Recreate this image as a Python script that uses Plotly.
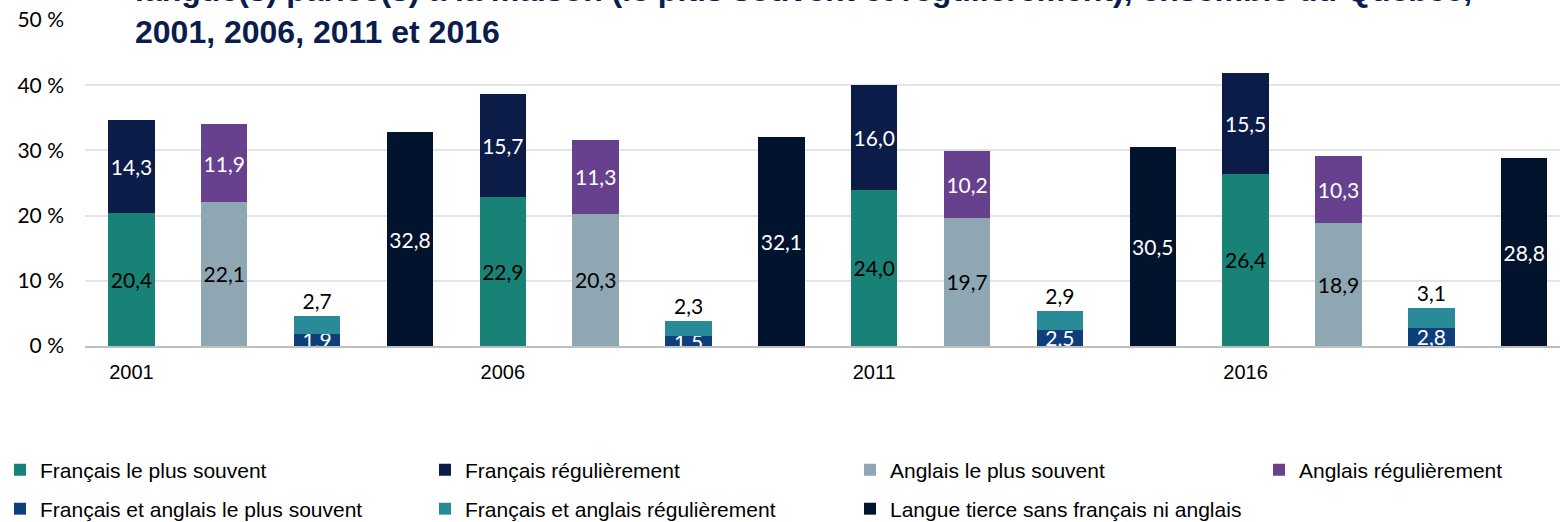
import plotly.graph_objects as go

# ---- data ----
years = ["2001", "2006", "2011", "2016"]
fr_most = [20.4, 22.9, 24.0, 26.4]      # Français le plus souvent
fr_reg = [14.3, 15.7, 16.0, 15.5]       # Français régulièrement
en_most = [22.1, 20.3, 19.7, 18.9]      # Anglais le plus souvent
en_reg = [11.9, 11.3, 10.2, 10.3]       # Anglais régulièrement
fren_most = [1.9, 1.5, 2.5, 2.8]        # Français et anglais le plus souvent
fren_reg = [2.7, 2.3, 2.9, 3.1]         # Français et anglais régulièrement
tierce = [32.8, 32.1, 30.5, 28.8]       # Langue tierce sans français ni anglais

y_ticks = [0, 10, 20, 30, 40, 50]
y_ticktext = ["0 %", "10 %", "20 %", "30 %", "40 %", "50 %"]

title_text = ("langue(s) parlée(s) à la maison (le plus souvent et régulièrement), ensemble du Québec,"
              "<br>2001, 2006, 2011 et 2016")

# ---- positions: 4 slots per year ----
n = len(years)
pos_fr = [4 * i + 0 for i in range(n)]
pos_en = [4 * i + 1 for i in range(n)]
pos_fren = [4 * i + 2 for i in range(n)]
pos_ti = [4 * i + 3 for i in range(n)]

LABEL_FONT = "Lato"
AX_FONT = "Liberation Sans, Arial, sans-serif"

def bar(x, y, name, color, txtcolor, legend, textpos="inside"):
    return go.Bar(
        x=x, y=y, name=name, legend=legend,
        marker=dict(color=color, line=dict(width=0)),
        texttemplate="%{y:.1f}", textposition=textpos,
        insidetextanchor="middle", textangle=0, constraintext="none",
        textfont=dict(family=LABEL_FONT, size=21, color=txtcolor),
        outsidetextfont=dict(family=LABEL_FONT, size=21, color=txtcolor),
        cliponaxis=True, hoverinfo="skip",
    )

fig = go.Figure()
fig.add_trace(bar(pos_fr, fr_most, "Français le plus souvent", "#188276", "#000000", "legend"))
fig.add_trace(bar(pos_fr, fr_reg, "Français régulièrement", "#0B1C48", "#FFFFFF", "legend"))
fig.add_trace(bar(pos_en, en_most, "Anglais le plus souvent", "#8FA7B3", "#000000", "legend"))
fig.add_trace(bar(pos_en, en_reg, "Anglais régulièrement", "#67418E", "#FFFFFF", "legend3"))
fig.add_trace(bar(pos_fren, fren_most, "Français et anglais le plus souvent", "#0E3F7A", "#FFFFFF", "legend2"))
fig.add_trace(bar(pos_fren, fren_reg, "Français et anglais régulièrement", "#2A8B98", "#000000", "legend2", "outside"))
fig.add_trace(bar(pos_ti, tierce, "Langue tierce sans français ni anglais", "#02132D", "#FFFFFF", "legend2"))

legend_common = dict(
    orientation="h", xref="container", yref="container",
    xanchor="left", yanchor="middle",
    font=dict(family=AX_FONT, size=21, color="#000000"),
    entrywidth=380, entrywidthmode="pixels",
    bgcolor="rgba(0,0,0,0)", traceorder="normal",
)

PLOT_L = 85
PLOT_W = 1560 - PLOT_L

fig.update_layout(
    width=1560, height=522,
    barmode="stack", bargap=0.5,
    separators=", ",
    paper_bgcolor="white", plot_bgcolor="white",
    margin=dict(l=PLOT_L, r=0, t=20, b=176, pad=0),
    uniformtext=dict(minsize=21, mode="show"),
    legend=dict(x=0, y=1 - 470 / 522, **legend_common),
    legend3=dict(x=1259 / 1560, y=1 - 470 / 522, **legend_common),
    legend2=dict(x=0, y=1 - 509 / 522, **legend_common),
    xaxis=dict(
        range=[-0.5, 15.386], tickvals=[4 * i for i in range(n)], ticktext=years,
        ticks="", showgrid=False, zeroline=False,
        showline=True, linecolor="#BFBFBF", linewidth=2,
        tickfont=dict(family=AX_FONT, size=20, color="#000000"),
        ticklabelstandoff=7, fixedrange=True,
    ),
    yaxis=dict(
        range=[0, 50], tickvals=y_ticks, ticktext=y_ticktext,
        ticks="", showgrid=True, gridcolor="#E4E4E4", gridwidth=2,
        zeroline=False, showline=False,
        tickfont=dict(family=LABEL_FONT, size=21, color="#000000"),
        ticklabelstandoff=20, fixedrange=True,
    ),
    showlegend=True,
    annotations=[dict(
        text=title_text, xref="paper", yref="paper",
        x=(133 - PLOT_L) / PLOT_W, xanchor="left", align="left",
        y=(346 - 52) / 326, yanchor="bottom", showarrow=False,
        font=dict(family=AX_FONT, size=32, color="#0B1D4D", weight="bold"),
    )],
)

fig.write_html(
    "out.html",
    config={"displayModeBar": False},
    post_script="document.body.style.margin='0';document.body.style.overflow='hidden';",
)
